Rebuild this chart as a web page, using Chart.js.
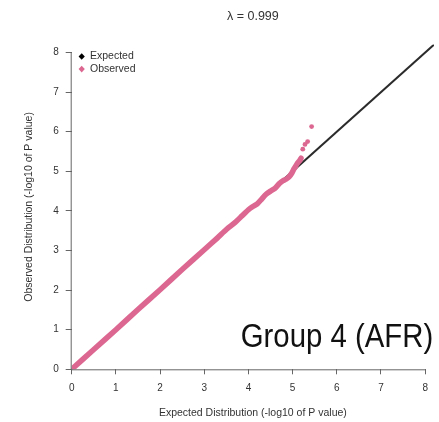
<!DOCTYPE html>
<html>
<head>
<meta charset="utf-8">
<script src="https://cdn.jsdelivr.net/npm/chart.js@4/dist/chart.umd.min.js"></script>
<style>
  html, body { margin: 0; padding: 0; background: #ffffff; }
  #wrap { width: 439px; height: 422px; position: relative; }
</style>
</head>
<body>
<div id="wrap"><canvas id="qq" width="439" height="422"></canvas></div>
<script>
// Q-Q plot of association p-values: expected vs observed -log10(P)
const lambdaText = 'λ = 0.999';
const groupLabel = 'Group 4 (AFR)';
const xTitle = 'Expected Distribution (-log10 of P value)';
const yTitle = 'Observed Distribution (-log10 of P value)';
const tickValues = [0, 1, 2, 3, 4, 5, 6, 7, 8];

// identity reference line (expected = observed)
const refLineX = [0, 8.2];
const refLineY = [0, 8.2];

// bulk of observed quantiles
const obsExpected = [0, 0.5, 1.0, 1.5, 2.0, 2.5, 3.0, 3.3, 3.5, 3.7, 3.85, 4.0, 4.1, 4.2, 4.3, 4.4, 4.5, 4.6, 4.7, 4.78, 4.85, 4.92, 4.98, 5.03, 5.08, 5.12, 5.16, 5.19];
const obsObserved = [0, 0.5, 1.0, 1.51, 2.01, 2.52, 3.02, 3.32, 3.53, 3.71, 3.87, 4.03, 4.11, 4.18, 4.3, 4.42, 4.5, 4.57, 4.69, 4.76, 4.8, 4.86, 4.95, 5.06, 5.15, 5.22, 5.27, 5.33];

// strongest signals at the top tail
const tailExpected = [5.23, 5.28, 5.34, 5.43];
const tailObserved = [5.56, 5.68, 5.75, 6.13];

const PINK = '#dc6790';
const DARK = '#2b2b2b';
const FONT = "'Liberation Sans', Arial, sans-serif";

const toXY = (xs, ys) => xs.map((x, i) => ({ x, y: ys[i] }));

// axes lines (from first to last tick), titles, legend and annotation text
const decorations = {
  id: 'decorations',
  afterDraw(chart) {
    const { ctx } = chart;
    const xs = chart.scales.x, ys = chart.scales.y;
    const x0 = xs.getPixelForValue(0), x8 = xs.getPixelForValue(8);
    const y0 = ys.getPixelForValue(0), y8 = ys.getPixelForValue(8);
    ctx.save();
    ctx.strokeStyle = '#666';
    ctx.lineWidth = 1;
    ctx.beginPath();
    ctx.moveTo(x0, y0 + 0.5); ctx.lineTo(x8, y0 + 0.5);
    ctx.moveTo(x0 - 0.5, y0); ctx.lineTo(x0 - 0.5, y8);
    ctx.stroke();

    ctx.fillStyle = '#333';
    ctx.textAlign = 'center';
    ctx.textBaseline = 'middle';
    ctx.font = '12.5px ' + FONT;
    ctx.fillText(lambdaText, (chart.chartArea.left + chart.chartArea.right) / 2, 17);

    ctx.font = '10.5px ' + FONT;
    ctx.fillText(xTitle, (chart.chartArea.left + chart.chartArea.right) / 2, 413);
    ctx.save();
    ctx.translate(29, (chart.chartArea.top + chart.chartArea.bottom) / 2);
    ctx.rotate(-Math.PI / 2);
    ctx.fillText(yTitle, 0, 0);
    ctx.restore();

    // legend
    const entries = [chart.data.datasets[0], chart.data.datasets[1]];
    entries.forEach((ds, i) => {
      const cy = 56.5 + i * 12.6;
      ctx.fillStyle = ds.legendColor;
      ctx.beginPath();
      ctx.moveTo(81.7, cy - 3.3); ctx.lineTo(84.8, cy); ctx.lineTo(81.7, cy + 3.3); ctx.lineTo(78.6, cy);
      ctx.closePath();
      ctx.fill();
      ctx.fillStyle = '#333';
      ctx.textAlign = 'left';
      ctx.font = '10.5px ' + FONT;
      ctx.fillText(ds.label, 90, cy);
    });

    // group label
    ctx.fillStyle = '#111';
    ctx.font = '33px ' + FONT;
    ctx.textAlign = 'right';
    ctx.textBaseline = 'alphabetic';
    const w = ctx.measureText(groupLabel).width;
    ctx.translate(433.3, 346.7);
    ctx.scale(192.6 / w, 1);
    ctx.fillText(groupLabel, 0, 0);
    ctx.restore();
  }
};

const fixedTicks = (scale) => { scale.ticks = tickValues.map(v => ({ value: v })); };

new Chart(document.getElementById('qq'), {
  type: 'scatter',
  data: {
    datasets: [
      {
        label: 'Expected',
        legendColor: '#000',
        data: toXY(refLineX, refLineY),
        showLine: true,
        borderColor: DARK,
        borderWidth: 2,
        pointRadius: 0,
        order: 3
      },
      {
        label: 'Observed',
        legendColor: PINK,
        data: toXY(obsExpected, obsObserved),
        showLine: true,
        borderColor: PINK,
        borderWidth: 5.5,
        borderCapStyle: 'round',
        borderJoinStyle: 'round',
        tension: 0.2,
        pointRadius: 0,
        order: 2
      },
      {
        label: 'Observed tail',
        legendColor: PINK,
        data: toXY(tailExpected, tailObserved),
        showLine: false,
        backgroundColor: PINK,
        borderColor: PINK,
        borderWidth: 0,
        pointRadius: 2.4,
        order: 1
      }
    ]
  },
  options: {
    responsive: false,
    animation: false,
    layout: { padding: { top: 44.6, right: 5, left: 0, bottom: 0 } },
    plugins: {
      legend: { display: false },
      tooltip: { enabled: false },
      title: { display: false }
    },
    scales: {
      x: {
        type: 'linear',
        min: 0,
        max: 8.2,
        afterBuildTicks: fixedTicks,
        afterFit: (s) => { s.height = 52.7; },
        border: { display: false },
        grid: { drawOnChartArea: false, drawTicks: true, tickLength: 5, tickColor: '#666', lineWidth: 1 },
        ticks: { color: '#333', font: { family: FONT, size: 10 }, padding: 8, maxRotation: 0 }
      },
      y: {
        type: 'linear',
        min: 0,
        max: 8.2,
        afterBuildTicks: fixedTicks,
        afterFit: (s) => { s.width = 71.7; },
        border: { display: false },
        grid: { drawOnChartArea: false, drawTicks: true, tickLength: 6, tickColor: '#666', lineWidth: 1 },
        ticks: { color: '#333', font: { family: FONT, size: 10 }, padding: 7 }
      }
    }
  },
  plugins: [decorations]
});
</script>
</body>
</html>
